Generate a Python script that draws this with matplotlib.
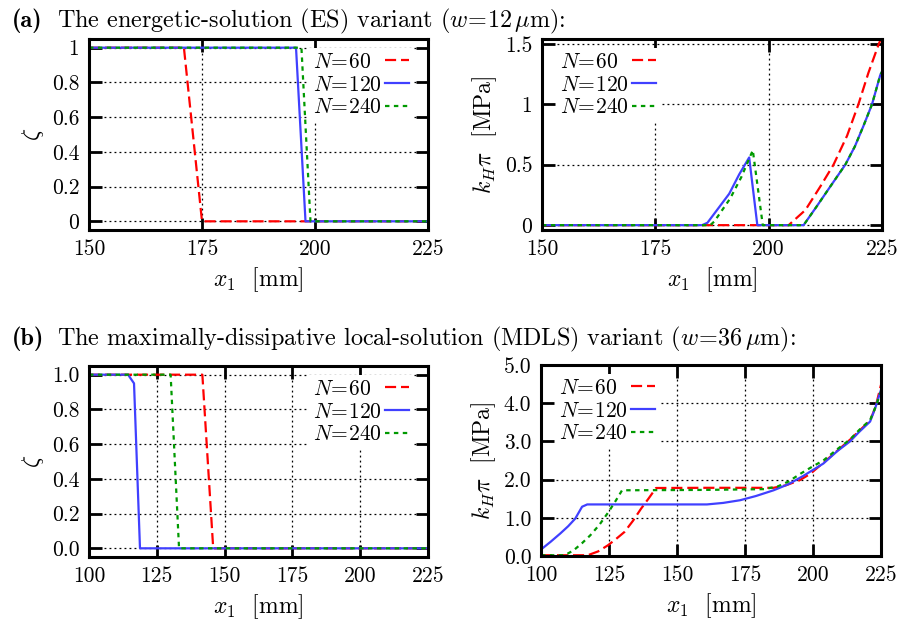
import matplotlib
matplotlib.use("Agg")
import matplotlib.pyplot as plt
import numpy as np

plt.rcParams["font.family"] = ["cmr10", "DejaVu Serif"]
plt.rcParams["mathtext.fontset"] = "cm"
plt.rcParams["axes.formatter.use_mathtext"] = True
plt.rcParams["font.size"] = 15.5

# (a) ES variant, damage variable zeta
a_zeta_x60 = [150, 171, 175, 225]
a_zeta_y60 = [1, 1, 0, 0]
a_zeta_x120 = [150, 195.8, 197.9, 225]
a_zeta_y120 = [1, 1, 0, 0]
a_zeta_x240 = [150, 197.0, 199.0, 225]
a_zeta_y240 = [1, 1, 0, 0]

# (a) ES variant, k_H pi [MPa]
a_k_x60 = [150, 204.4, 208.1, 211.4, 214.3, 217.3, 219.8, 222.0, 224.3, 225]
a_k_y60 = [0, 0, 0.125, 0.32, 0.5, 0.74, 1.0, 1.26, 1.5, 1.56]
a_k_x120 = [150, 185.3, 186.5, 191.3, 193.5, 195.7, 197.5, 207.7, 210.5, 213.6,
            216.9, 219.0, 220.9, 222.8, 224.6, 225]
a_k_y120 = [0, 0, 0.02, 0.26, 0.42, 0.56, 0, 0, 0.15, 0.32,
            0.5, 0.65, 0.82, 1.0, 1.24, 1.27]
a_k_x240 = [150, 187.1, 188, 191.5, 194, 196.5, 198.7, 207.7, 210.5, 213.6,
            216.9, 219.0, 220.9, 222.8, 224.6, 225]
a_k_y240 = [0, 0, 0.03, 0.22, 0.4, 0.62, 0, 0, 0.15, 0.32,
            0.5, 0.65, 0.82, 1.0, 1.24, 1.27]

# (b) MDLS variant, damage variable zeta
b_zeta_x60 = [100, 141.8, 145.8, 225]
b_zeta_y60 = [1, 1, 0, 0]
b_zeta_x120 = [100, 114.4, 116.6, 118.8, 225]
b_zeta_y120 = [1, 1, 0.95, 0, 0]
b_zeta_x240 = [100, 130.1, 133.2, 225]
b_zeta_y240 = [1, 1, 0, 0]

# (b) MDLS variant, k_H pi [MPa]
b_k_x60 = [100, 117.2, 121, 124.6, 127.5, 130.7, 133.8, 136.8, 139.5, 142.3, 160, 185.5,
           190, 195, 199.0, 206.4, 213.7, 221.0, 223, 225]
b_k_y60 = [0.02, 0.02, 0.12, 0.28, 0.44, 0.63, 0.92, 1.24, 1.5, 1.78, 1.785, 1.785,
           1.85, 1.98, 2.15, 2.6, 3.05, 3.55, 3.9, 4.48]
b_k_x120 = [100, 103.5, 107.1, 110, 112.6, 115.1, 117.0, 140, 161.0, 167, 173.2,
            179, 185.5, 191, 196.5, 203.8, 209, 213.6, 217, 221.0, 223, 225]
b_k_y120 = [0.17, 0.37, 0.59, 0.78, 0.98, 1.29, 1.35, 1.35, 1.35, 1.39, 1.46,
            1.57, 1.72, 1.88, 2.1, 2.42, 2.75, 3.0, 3.25, 3.52, 3.9, 4.35]
b_k_x240 = [100, 108.3, 110, 112.0, 115, 118.1, 121.5, 124.8, 127.5, 129.8, 160,
            182, 187, 191, 195.3, 200, 203.8, 209, 213.6, 217, 221.0, 223, 225]
b_k_y240 = [0.02, 0.02, 0.07, 0.15, 0.33, 0.54, 0.82, 1.15, 1.45, 1.72, 1.73,
            1.75, 1.82, 1.95, 2.15, 2.35, 2.5, 2.8, 3.05, 3.3, 3.56, 3.9, 4.3]

labels = [r"$N\!=\!60$", r"$N\!=\!120$", r"$N\!=\!240$"]
colors = ["#ff0000", "#4040ff", "#009a00"]
dashes = [(5, 2.2), None, (2, 2)]

W, H = 907, 623
fig = plt.figure(figsize=(W / 100, H / 100), dpi=100)
legends = []


def add_axes(x0, y0, x1, y1):
    # pixel box (top-left origin) -> figure fraction
    return fig.add_axes([x0 / W, 1 - y1 / H, (x1 - x0) / W, (y1 - y0) / H])


def draw(ax, xs, ys):
    for x, y, c, d, lab in zip(xs, ys, colors, dashes, labels):
        line, = ax.plot(x, y, color=c, lw=1.6, label=lab)
        if d is not None:
            line.set_dashes(d)


def style(ax, xlim, ylim, xticks, yticks, ylabels, ylabel, leg_right):
    ax.set_xlim(xlim)
    ax.set_ylim(ylim)
    ax.set_xticks(xticks, [str(t) for t in xticks])
    ax.set_yticks(yticks, ylabels)
    ax.grid(True, color="black", linestyle=(0, (1.5, 2.5)), linewidth=0.9)
    ax.tick_params(direction="in", length=9, width=2, top=True, right=True,
                   pad=7, labelsize=15.5)
    for s in ax.spines.values():
        s.set_linewidth(2.2)
    ax.set_xlabel(r"$x_1$  [mm]", fontsize=17, labelpad=4)
    ax.set_ylabel(ylabel, fontsize=17, labelpad=4)
    w = ax.get_position().width * W
    h = ax.get_position().height * H
    if leg_right:
        loc, anchor = "upper right", (1 - 15 / w, 1 - 9 / h)
    else:
        loc, anchor = "upper left", (14 / w, 1 - 9 / h)
    leg = ax.legend(loc=loc, bbox_to_anchor=anchor, markerfirst=False,
                    frameon=True, fancybox=False, framealpha=1, edgecolor="none",
                    handlelength=1.1, handletextpad=0.15, labelspacing=0.15,
                    borderpad=0.2, borderaxespad=0, fontsize=15.5)
    leg.get_frame().set_linewidth(0)
    legends.append(leg)


ax1 = add_axes(89, 39, 428, 230)
draw(ax1, [a_zeta_x60, a_zeta_x120, a_zeta_x240], [a_zeta_y60, a_zeta_y120, a_zeta_y240])
style(ax1, (150, 225), (-0.05, 1.05), [150, 175, 200, 225],
      [0, 0.2, 0.4, 0.6, 0.8, 1], ["0", "0.2", "0.4", "0.6", "0.8", "1"],
      r"$\zeta$", True)

ax2 = add_axes(542, 39, 882, 230)
draw(ax2, [a_k_x60, a_k_x120, a_k_x240], [a_k_y60, a_k_y120, a_k_y240])
style(ax2, (150, 225), (-0.04, 1.54), [150, 175, 200, 225],
      [0, 0.5, 1, 1.5], ["0", "0.5", "1", "1.5"],
      r"$k_H\pi$  [MPa]", False)

ax3 = add_axes(89, 366, 428, 557)
draw(ax3, [b_zeta_x60, b_zeta_x120, b_zeta_x240], [b_zeta_y60, b_zeta_y120, b_zeta_y240])
style(ax3, (100, 225), (-0.05, 1.05), [100, 125, 150, 175, 200, 225],
      [0, 0.2, 0.4, 0.6, 0.8, 1.0], ["0.0", "0.2", "0.4", "0.6", "0.8", "1.0"],
      r"$\zeta$", True)

ax4 = add_axes(541, 365, 881, 556)
draw(ax4, [b_k_x60, b_k_x120, b_k_x240], [b_k_y60, b_k_y120, b_k_y240])
style(ax4, (100, 225), (0, 5), [100, 125, 150, 175, 200, 225],
      [0, 1, 2, 3, 4, 5], ["0.0", "1.0", "2.0", "3.0", "4.0", "5.0"],
      r"$k_H\pi$  [MPa]", False)

fig.text(12 / W, 1 - 27 / H, "(a)", family="cmb10", fontsize=17.5, va="baseline")
fig.text(57 / W, 1 - 27 / H, r"The energetic-solution (ES) variant ($w\!=\!12\,\mu$m):",
         fontsize=17.4, va="baseline")
fig.text(12 / W, 1 - 345 / H, "(b)", family="cmb10", fontsize=17.5, va="baseline")
fig.text(57 / W, 1 - 345 / H,
         r"The maximally-dissipative local-solution (MDLS) variant ($w\!=\!36\,\mu$m):",
         fontsize=17.4, va="baseline")

# gnuplot-style keys: label left-aligned, sample right-aligned
fig.canvas.draw()
renderer = fig.canvas.get_renderer()
for leg in legends:
    for col in leg._legend_handle_box.get_children():
        entries = col.get_children()
        wmax = max(e.get_bbox(renderer).width for e in entries)
        for e in entries:
            e.mode = "expand"
            e.width = wmax

fig.savefig("out.png", dpi=100)
